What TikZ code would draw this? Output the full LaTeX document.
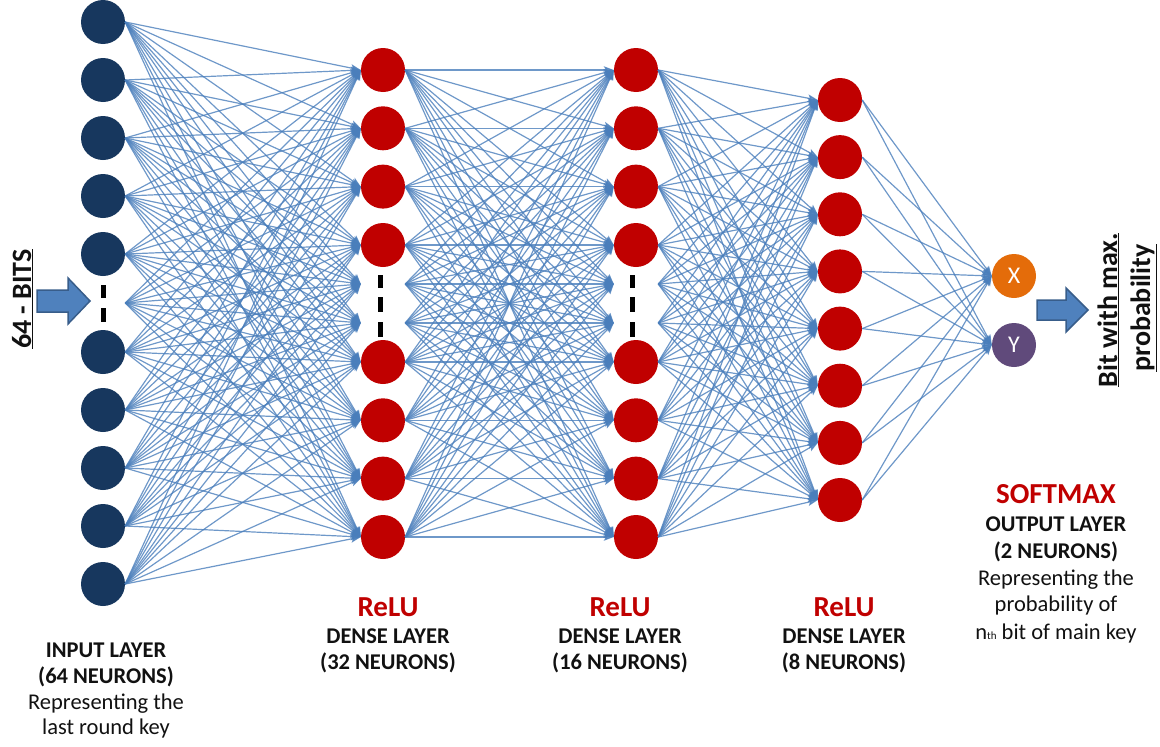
\documentclass[tikz,border=0pt]{standalone}
\usepackage{fontspec}
\setmainfont{Carlito}
\usetikzlibrary{arrows.meta}
\definecolor{navy}{HTML}{17375E}
\definecolor{redn}{HTML}{C00000}
\definecolor{orangen}{HTML}{E46C0A}
\definecolor{purplen}{HTML}{604A7B}
\definecolor{linkblue}{HTML}{4A7EBB}
\definecolor{arrfill}{HTML}{4F81BD}
\definecolor{arrdraw}{HTML}{385D8A}
\definecolor{txt}{HTML}{111111}
\tikzset{
 neuron/.style={circle, minimum size=44pt, inner sep=0pt},
 inpn/.style={neuron, fill=navy},
 hidn/.style={neuron, fill=redn},
 ghost/.style={neuron},
 outn/.style={neuron, text=white, font=\fontsize{24}{28}\selectfont},
 conn/.style={draw=linkblue, line width=1.2pt, opacity=0.8, -{Stealth[length=10pt,width=7.5pt,inset=2pt]}},
 lbl/.style={font=\fontsize{22.5}{27}\selectfont, text=txt, anchor=base, inner sep=0pt},
 blbl/.style={font=\fontsize{22.5}{27}\selectfont\bfseries, text=txt, anchor=base, inner sep=0pt},
 actlbl/.style={font=\fontsize{29}{33}\selectfont\bfseries, text=redn, anchor=base, inner sep=0pt},
 sidelbl/.style={font=\fontsize{28}{32}\selectfont\bfseries, text=txt, anchor=base, inner sep=0pt, rotate=90},
 gapmark/.style={line width=5pt, black},
 blockarrow/.style={fill=arrfill, draw=arrdraw, line width=1.5pt, line join=miter}
}
\begin{document}
\begin{tikzpicture}[x=1pt,y=-1pt]
\useasboundingbox (0,0) rectangle (1160,747);
% input layer
\foreach \i/\y in {1/22,2/80,3/138,4/196,5/254,6/352,7/410,8/468,9/526,10/584}
  \node[inpn] (a\i) at (103,\y) {};
\node[ghost] (ah) at (103,303) {};
% dense layer 1
\foreach \i/\y in {1/70,2/128.3,3/186.6,4/245,5/362,6/420.3,7/478.6,8/537}
  \node[hidn] (b\i) at (383,\y) {};
\node[ghost] (bh1) at (383,284) {};
\node[ghost] (bh2) at (383,323) {};
% dense layer 2
\foreach \i/\y in {1/70,2/128.3,3/186.6,4/245,5/362,6/420.3,7/478.6,8/537}
  \node[hidn] (c\i) at (636,\y) {};
\node[ghost] (ch1) at (636,284) {};
\node[ghost] (ch2) at (636,323) {};
% dense layer 3
\foreach \i/\y in {1/100,2/157.1,3/214.3,4/271.4,5/328.6,6/385.7,7/442.9,8/500}
  \node[hidn] (d\i) at (840,\y) {};
% output layer
\node[outn, fill=orangen] (ox) at (1014,276) {X};
\node[outn, fill=purplen] (oy) at (1014,345) {Y};
% connections
\foreach \s in {a1,a2,a3,a4,a5,ah,a6,a7,a8,a9,a10}
  \foreach \t in {b1,b2,b3,b4,bh1,bh2,b5,b6,b7,b8}
    \draw[conn] (\s.east) -- (\t.west);
\foreach \s in {b1,b2,b3,b4,bh1,bh2,b5,b6,b7,b8}
  \foreach \t in {c1,c2,c3,c4,ch1,ch2,c5,c6,c7,c8}
    \draw[conn] (\s.east) -- (\t.west);
\foreach \s in {c1,c2,c3,c4,ch1,ch2,c5,c6,c7,c8}
  \foreach \t in {d1,d2,d3,d4,d5,d6,d7,d8}
    \draw[conn] (\s.east) -- (\t.west);
\foreach \s in {d1,d2,d3,d4,d5,d6,d7,d8}
  \foreach \t in {ox,oy}
    \draw[conn] (\s.east) -- (\t.west);
% gap marks
\draw[gapmark] (103,285) -- (103,298) (103,308) -- (103,322);
\foreach \x in {380,632}
  \draw[gapmark] (\x,275) -- (\x,288) (\x,297) -- (\x,312) (\x,322) -- (\x,337);
% block arrows
\draw[blockarrow] (37,290) -- (68,290) -- (68,278) -- (90,301) -- (68,324) -- (68,312) -- (37,312) -- cycle;
\draw[blockarrow] (1037,300) -- (1066,300) -- (1066,288) -- (1088,310) -- (1066,332) -- (1066,320) -- (1037,320) -- cycle;
% side labels
\node[sidelbl] (bits) at (31,299) {\underline{64 - BITS}};
\node[sidelbl] (bitmax1) at (1117,310) {\underline{Bit with max.}};
\node[sidelbl] (bitmax2) at (1150,308) {\underline{probability}};
% input label
\node[blbl] (in1) at (106,657) {INPUT LAYER};
\node[blbl] (in2) at (106,683) {(64 NEURONS)};
\node[lbl] (in3) at (106,709) {Representing the};
\node[lbl] (in4) at (106,734) {last round key};
% dense labels
\foreach \n/\x/\k in {1/388/32,2/620/16,3/844/8}{
  \node[actlbl] (act\n) at (\x,616) {ReLU};
  \node[blbl] (dl\n) at (\x,643) {DENSE LAYER};
  \node[blbl] (dn\n) at (\x,669) {(\k\ NEURONS)};
}
% output label
\node[actlbl] (sm) at (1056,503) {SOFTMAX};
\node[blbl] (ol1) at (1056,531) {OUTPUT LAYER};
\node[blbl] (ol2) at (1056,558) {(2 NEURONS)};
\node[lbl] (ol3) at (1056,585) {Representing the};
\node[lbl] (ol4) at (1056,611) {probability of};
\node[lbl] (ol5) at (1056,639) {n{\fontsize{11}{12}\selectfont th} bit of main key};
\end{tikzpicture}
\end{document}
